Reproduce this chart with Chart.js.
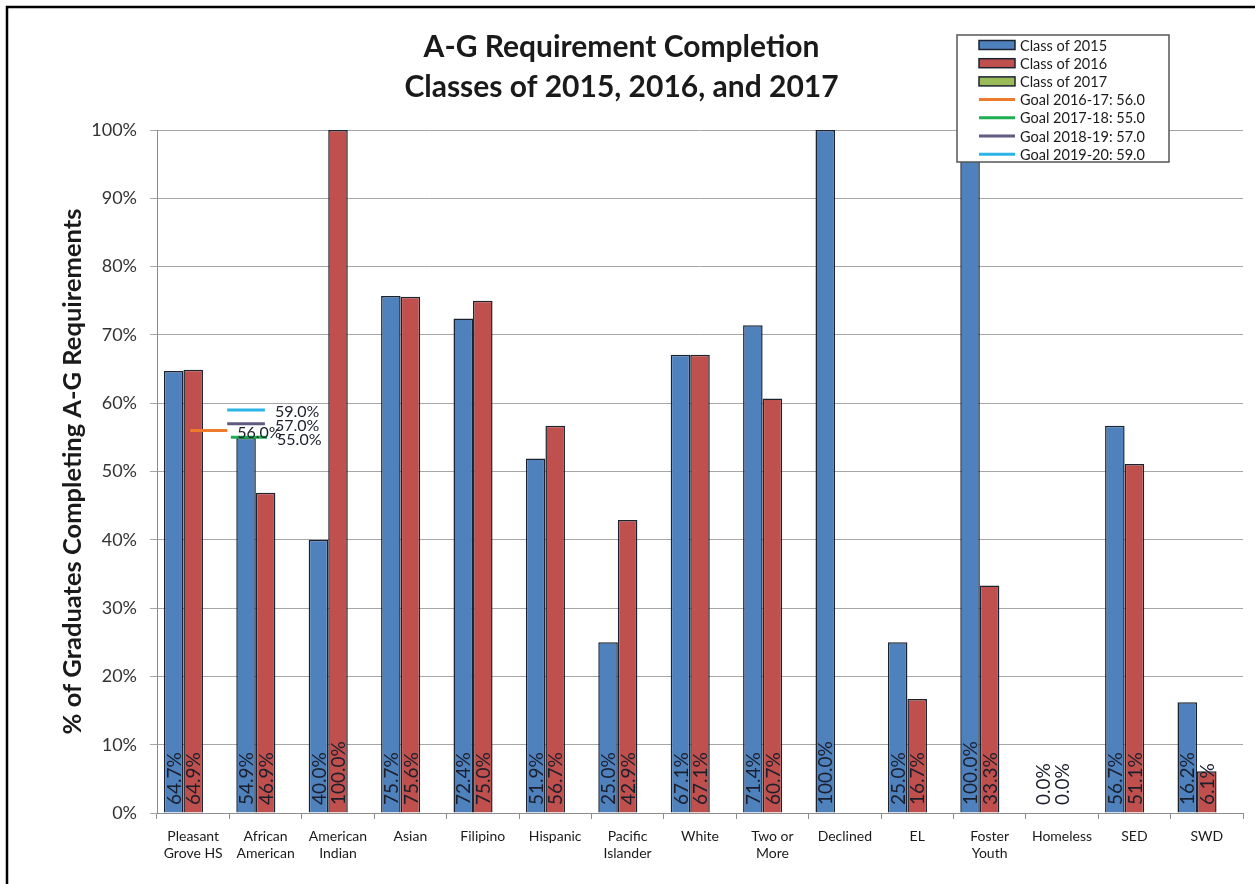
<!DOCTYPE html>
<html lang="en">
<head>
    <meta charset="UTF-8">
    <title>A-G Requirement Completion</title>
    <script src="https://cdn.jsdelivr.net/npm/chart.js"></script>
    <style>
        html, body { margin: 0; padding: 0; background: #fff; }
        #wrap { position: relative; width: 1255px; height: 884px; }
    </style>
</head>
<body>
    <div id="wrap"><canvas id="agChart"></canvas></div>
    <script>
        // chart values
        const categories = [['Pleasant', 'Grove HS'], ['African', 'American'], ['American', 'Indian'], 'Asian', 'Filipino',
            'Hispanic', ['Pacific', 'Islander'], 'White', ['Two or', 'More'], 'Declined', 'EL', ['Foster', 'Youth'],
            'Homeless', 'SED', 'SWD'];
        const class2015 = [64.7, 54.9, 40.0, 75.7, 72.4, 51.9, 25.0, 67.1, 71.4, 100.0, 25.0, 100.0, 0.0, 56.7, 16.2];
        const class2016 = [64.9, 46.9, 100.0, 75.6, 75.0, 56.7, 42.9, 67.1, 60.7, null, 16.7, 33.3, 0.0, 51.1, 6.1];
        const class2017 = [];
        const goalYears = ['2016-17', '2017-18', '2018-19', '2019-20'];
        const goalValues = [56.0, 55.0, 57.0, 59.0];
        const yTicks = [0, 10, 20, 30, 40, 50, 60, 70, 80, 90, 100];

        // where the short goal markers sit, in category units along the x axis
        const goalSpans = [[0.46, 0.97], [1.02, 1.52], [0.97, 1.49], [0.97, 1.49]];
        const goalColors = ['#EE7B2C', '#1FAE50', '#5F5A80', '#2AB5E6'];

        const FONT = 'Lato, "Liberation Sans", sans-serif';
        const INK = '#1a1a1a';
        const EDGE = '#1c2330';

        const barDatasets = [
            { label: 'Class of 2015', data: class2015, backgroundColor: '#4F81BD' },
            { label: 'Class of 2016', data: class2016, backgroundColor: '#C0504D' },
            { label: 'Class of 2017', data: class2017, backgroundColor: '#9BBB59' }
        ].map(d => Object.assign(d, {
            borderColor: EDGE,
            borderWidth: 1.5,
            barPercentage: 1.0,
            categoryPercentage: 0.81
        }));

        const goalLabels = goalValues.map((v, i) => 'Goal ' + goalYears[i] + ': ' + v.toFixed(1));

        // goal markers + their labels, placed with the chart's own scales
        const goalMarks = {
            id: 'goalMarks',
            afterDatasetsDraw(chart) {
                const ctx = chart.ctx;
                const x = chart.scales.x, y = chart.scales.y;
                const n = categories.length;
                ctx.save();
                ctx.lineWidth = 3;
                goalValues.forEach((v, i) => {
                    const py = y.getPixelForValue(v);
                    ctx.strokeStyle = goalColors[i];
                    ctx.beginPath();
                    ctx.moveTo(x.getPixelForDecimal(goalSpans[i][0] / n), py);
                    ctx.lineTo(x.getPixelForDecimal(goalSpans[i][1] / n), py);
                    ctx.stroke();
                });
                ctx.font = '16px ' + FONT;
                ctx.fillStyle = '#1b1f2c';
                ctx.textAlign = 'left';
                ctx.textBaseline = 'middle';
                goalValues.forEach((v, i) => {
                    const px = x.getPixelForDecimal(goalSpans[i][1] / n);
                    ctx.fillText(v.toFixed(1) + '%', px + 10, y.getPixelForValue(v) + 2);
                });
                ctx.restore();
            }
        };

        // percent labels standing inside the foot of every bar
        const barLabels = {
            id: 'barLabels',
            afterDatasetsDraw(chart) {
                const ctx = chart.ctx;
                const base = chart.scales.y.getPixelForValue(0);
                ctx.save();
                ctx.font = '19px ' + FONT;
                ctx.fillStyle = '#1b1f2c';
                ctx.textAlign = 'left';
                ctx.textBaseline = 'middle';
                [0, 1].forEach(di => {
                    const meta = chart.getDatasetMeta(di);
                    const values = chart.data.datasets[di].data;
                    meta.data.forEach((bar, i) => {
                        if (values[i] === null || values[i] === undefined) return;
                        ctx.save();
                        ctx.translate(bar.x, base - 8);
                        ctx.rotate(-Math.PI / 2);
                        ctx.fillText(values[i].toFixed(1) + '%', 0, 1);
                        ctx.restore();
                    });
                });
                ctx.restore();
            }
        };

        // legend box laid over the top right of the plot, plus the frame lines
        const boxLegend = {
            id: 'boxLegend',
            afterDraw(chart) {
                const ctx = chart.ctx;
                const x0 = 957, y0 = 35, w = 212, h = 127;
                ctx.save();
                ctx.fillStyle = '#fff';
                ctx.fillRect(x0, y0, w, h);
                ctx.strokeStyle = '#555';
                ctx.lineWidth = 1.5;
                ctx.strokeRect(x0, y0, w, h);
                ctx.font = '14.5px ' + FONT;
                ctx.textBaseline = 'middle';
                ctx.textAlign = 'left';
                const items = chart.data.datasets.map(d => ({ label: d.label, fill: d.backgroundColor }))
                    .concat(goalLabels.map((l, i) => ({ label: l, line: goalColors[i] })));
                items.forEach((it, i) => {
                    const y = y0 + 10 + i * 18.2;
                    if (it.line) {
                        ctx.strokeStyle = it.line;
                        ctx.lineWidth = 3;
                        ctx.beginPath();
                        ctx.moveTo(x0 + 22, y);
                        ctx.lineTo(x0 + 58, y);
                        ctx.stroke();
                    } else {
                        ctx.fillStyle = it.fill;
                        ctx.fillRect(x0 + 22, y - 4.5, 36, 9);
                        ctx.strokeStyle = EDGE;
                        ctx.lineWidth = 1.5;
                        ctx.strokeRect(x0 + 22, y - 4.5, 36, 9);
                    }
                    ctx.fillStyle = INK;
                    ctx.fillText(it.label, x0 + 63, y + 1);
                });
                // outer frame (top and left edges are what shows)
                ctx.strokeStyle = '#000';
                ctx.lineWidth = 2.5;
                ctx.beginPath();
                ctx.moveTo(7, chart.height);
                ctx.lineTo(7, 7);
                ctx.lineTo(chart.width, 7);
                ctx.stroke();
                ctx.restore();
            }
        };

        new Chart(document.getElementById('agChart'), {
            type: 'bar',
            data: {
                labels: categories,
                datasets: barDatasets
            },
            options: {
                responsive: true,
                maintainAspectRatio: false,
                animation: false,
                layout: { padding: { top: 8, right: 12, bottom: 0, left: 0 } },
                plugins: {
                    legend: { display: false },
                    tooltip: { enabled: false },
                    title: {
                        display: true,
                        text: ['A-G Requirement Completion', 'Classes of 2015, 2016, and 2017'],
                        color: INK,
                        font: { family: FONT, size: 30, weight: 'bold', lineHeight: 1.35 },
                        padding: { top: 18.75, bottom: 22.25 }
                    }
                },
                scales: {
                    x: {
                        grid: { drawOnChartArea: false, drawTicks: true, tickLength: 6, color: '#8c8c8c', offset: true },
                        border: { color: '#8c8c8c' },
                        ticks: {
                            color: INK,
                            padding: 9,
                            maxRotation: 0,
                            autoSkip: false,
                            font: { family: FONT, size: 14, lineHeight: 1.2 }
                        },
                        afterFit(s) { s.height = 71; }
                    },
                    y: {
                        min: 0,
                        max: 100,
                        afterBuildTicks(s) { s.ticks = yTicks.map(v => ({ value: v })); },
                        grid: { color: '#a6a6a6', tickLength: 7 },
                        border: { color: '#8c8c8c' },
                        ticks: {
                            color: '#333',
                            padding: 13,
                            font: { family: FONT, size: 18 },
                            callback: v => v + '%'
                        },
                        title: {
                            display: true,
                            text: '% of Graduates Completing A-G Requirements',
                            color: INK,
                            font: { family: FONT, size: 25.5, weight: 'bold' },
                            padding: { top: 57, bottom: 0 }
                        },
                        afterFit(s) { s.width = 157; }
                    }
                }
            },
            plugins: [goalMarks, barLabels, boxLegend]
        });
    </script>
</body>
</html>
